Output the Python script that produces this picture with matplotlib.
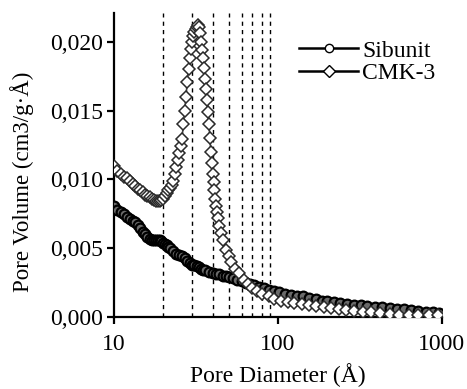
import matplotlib
matplotlib.use("Agg")
import matplotlib.pyplot as plt
from matplotlib.ticker import FuncFormatter, FixedLocator, NullLocator

plt.rcParams['font.family'] = ['Liberation Serif', 'DejaVu Serif']

# ---- data ----
sib_d = [10, 10.5, 11, 11.5, 12, 12.5, 13, 13.5, 14, 14.5, 15, 15.5, 16, 16.5, 17, 17.5,
         18, 18.5, 19, 19.5, 20, 20.5, 21, 21.5, 22, 23, 24, 25, 26, 27, 28, 29, 30, 31,
         32, 33, 34, 35, 36, 38, 40, 42, 44, 46, 48, 50, 53, 56, 60, 64, 68, 72, 77, 82,
         88, 95, 102, 110, 120, 130, 142, 155, 170, 185, 200, 220, 240, 265, 290, 320,
         350, 390, 430, 480, 530, 590, 650, 720, 800, 880, 960]
sib_v = [0.0081, 0.0078, 0.0076, 0.0075, 0.0073, 0.0071, 0.0070, 0.0069, 0.0067, 0.0065,
         0.0062, 0.0060, 0.0058, 0.0057, 0.0056, 0.0056, 0.0056, 0.0056, 0.0056, 0.0055,
         0.0054, 0.0053, 0.0052, 0.0051, 0.0050, 0.0048, 0.0046, 0.0045, 0.0044, 0.0043,
         0.0041, 0.0039, 0.0038, 0.0038, 0.0037, 0.0036, 0.0035, 0.0034, 0.0034, 0.0033,
         0.0032, 0.0031, 0.0031, 0.0030, 0.0030, 0.0029, 0.0028, 0.0027, 0.0026, 0.0025,
         0.0024, 0.0023, 0.0022, 0.0021, 0.0020, 0.0019, 0.0018, 0.0017, 0.0016, 0.0015,
         0.0015, 0.0014, 0.0013, 0.0012, 0.0012, 0.0011, 0.0010, 0.00095, 0.00090, 0.00085,
         0.00080, 0.00075, 0.00070, 0.00065, 0.00060, 0.00055, 0.00050, 0.00045, 0.00040,
         0.00035, 0.00030]

cmk_d = [10, 10.5, 11, 11.5, 12, 12.5, 13, 13.5, 14, 14.5, 15, 15.5, 16, 16.5, 17, 17.5,
         18, 18.5, 19, 19.5, 20, 20.5, 21, 21.5, 22, 22.5, 23, 23.5, 24, 24.5, 25, 25.5,
         26, 26.5, 27, 27.5, 28, 28.5, 29, 29.5, 30, 30.5, 31, 31.5, 32, 32.5, 33, 33.5,
         34, 34.5, 35, 35.5, 36, 36.5, 37, 37.5, 38, 38.5, 39, 39.5, 40, 40.5, 41, 41.5,
         42, 42.5, 43, 44, 45, 46, 48, 50, 52, 55, 58, 62, 66, 70, 75, 80, 88, 95, 105,
         115, 125, 140, 155, 170, 190, 210, 235, 260, 290, 330, 370, 420, 480, 550, 630,
         720, 830, 950]
cmk_v = [0.0110, 0.0106, 0.0104, 0.0102, 0.0101, 0.0099, 0.0097, 0.0095, 0.0093, 0.0092,
         0.0091, 0.0089, 0.0088, 0.0087, 0.0086, 0.0085, 0.0084, 0.0084, 0.0084, 0.0085,
         0.0086, 0.0088, 0.0090, 0.0092, 0.0094, 0.0096, 0.0099, 0.0104, 0.0109, 0.0114,
         0.0119, 0.0124, 0.0129, 0.0140, 0.0150, 0.0160, 0.0171, 0.0180, 0.0188, 0.0195,
         0.0200, 0.0204, 0.0207, 0.0209, 0.0211, 0.0212, 0.0211, 0.0206, 0.0200, 0.0194,
         0.0188, 0.0181, 0.0173, 0.0166, 0.0158, 0.0149, 0.0140, 0.0130, 0.0120, 0.0112,
         0.0104, 0.0098, 0.0092, 0.0086, 0.0081, 0.0076, 0.0072, 0.0066, 0.0061, 0.0056,
         0.0049, 0.0044, 0.0040, 0.0035, 0.0032, 0.0027, 0.0024, 0.0021, 0.0019, 0.0017,
         0.0015, 0.0013, 0.0012, 0.0011, 0.0010, 0.00092, 0.00085, 0.00078, 0.00070,
         0.00064, 0.00057, 0.00051, 0.00045, 0.00039, 0.00033, 0.00027, 0.00022, 0.00018,
         0.00016, 0.00015, 0.00015, 0.00015]

guide_d = [20, 30, 40, 50, 60, 70, 80, 90]
x_ticks = [10, 100, 1000]
y_ticks = [0.0, 0.005, 0.010, 0.015, 0.020]

fig = plt.figure(figsize=(4.67, 3.89), dpi=100)
ax = fig.add_axes([0.244, 0.185, 0.702, 0.782])

for g in guide_d:
    ax.axvline(g, color='black', lw=1.0, ls=(0, (3, 3)), zorder=1)

ax.plot(sib_d, sib_v, color='black', lw=3.0, marker='o', ms=7, mfc='#6a6a6a',
        mec='black', mew=1.6, label='Sibunit', zorder=3)
ax.plot(cmk_d, cmk_v, color='#444444', lw=1.2, marker='D', ms=6, mfc='white',
        mec='#2a2a2a', mew=1.1, label='CMK-3', zorder=4)

ax.set_xscale('log')
ax.set_xlim(10, 1000)
ax.set_ylim(0, 0.0221)
ax.xaxis.set_major_locator(FixedLocator(x_ticks))
ax.xaxis.set_minor_locator(NullLocator())
ax.xaxis.set_major_formatter(FuncFormatter(lambda v, p: f"{v:g}"))
ax.yaxis.set_major_locator(FixedLocator(y_ticks))
ax.yaxis.set_major_formatter(FuncFormatter(lambda v, p: f"{v:.3f}".replace('.', ',')))

for s in ['top', 'right']:
    ax.spines[s].set_visible(False)
for s in ['left', 'bottom']:
    ax.spines[s].set_linewidth(1.6)
ax.tick_params(axis='both', direction='out', length=5, width=1.6, labelsize=17, pad=3)
ax.tick_params(axis='x', pad=7)

ax.set_xlabel('Pore Diameter (Å)', fontsize=17, labelpad=6)
ax.set_ylabel('Pore Volume (cm3/g·Å)', fontsize=16.5)
ax.yaxis.set_label_coords(-0.245, 0.444)

leg = ax.legend(loc='upper left', bbox_to_anchor=(0.515, 0.965), frameon=False, fontsize=17,
                handlelength=2.5, handletextpad=0.15, labelspacing=0.05, borderpad=0.2)
for h in leg.legend_handles:
    h.set_markersize(6)
    h.set_markerfacecolor('white')
    h.set_markeredgecolor('black')
    h.set_markeredgewidth(1.0)
    h.set_linewidth(1.8)
    h.set_color('black')

fig.savefig('out.png', dpi=100)
